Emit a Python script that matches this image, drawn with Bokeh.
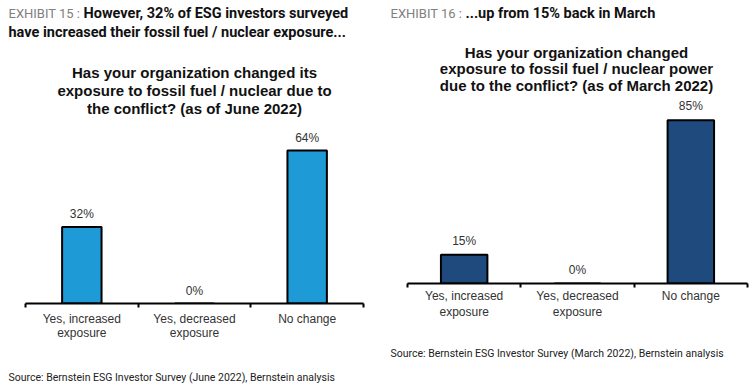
from bokeh.plotting import figure
from bokeh.models import Range1d, FixedTicker, ColumnDataSource
from bokeh.layouts import row, column
from bokeh.embed import file_html
from bokeh.resources import INLINE
from bokeh.core.properties import value

# ---- data ----
categories = ["Yes, increased\nexposure", "Yes, decreased\nexposure", "No change"]
june_values = [32, 0, 64]
march_values = [15, 0, 85]

left_exhibit = "EXHIBIT 15 :"
left_heading = ["However, 32% of ESG investors surveyed",
                "have increased their fossil fuel / nuclear exposure..."]
left_question = ["Has your organization changed its",
                 "exposure to fossil fuel / nuclear due to",
                 "the conflict? (as of June 2022)"]
left_source = "Source: Bernstein ESG Investor Survey (June 2022), Bernstein analysis"

right_exhibit = "EXHIBIT 16 :"
right_heading = ["...up from 15% back in March"]
right_question = ["Has your organization changed",
                  "exposure to fossil fuel / nuclear power",
                  "due to the conflict? (as of March 2022)"]
right_source = "Source: Bernstein ESG Investor Survey (March 2022), Bernstein analysis"

CHART_FONT = "Liberation Sans"
HEAD_FONT = "Roboto"
B = 45          # bottom border (axis area) shared by both panels
PANEL_W = 375
TOTAL_W, TOTAL_H = 750, 386


def make_panel(values, bar_color, bar_width, baseline, axis_px, px_per_pct,
               label_off, standoff, line_h, exhibit, exhibit_xy, heading, heading_xy,
               question, q_cx, q_ys):
    W = PANEL_W
    n = len(categories)
    xs = [i + 0.5 for i in range(n)]
    a0, a1 = axis_px
    sx = (a1 - a0) / n  # pixels per category
    x_range = Range1d(-a0 / sx, n + (W - a1) / sx)
    y_range = Range1d(0, baseline / px_per_pct)

    p = figure(width=W, height=baseline + B, output_backend="svg",
               toolbar_location=None, x_range=x_range, y_range=y_range,
               y_axis_location=None, min_border_left=0, min_border_right=0,
               min_border_top=0, min_border_bottom=B)
    p.outline_line_color = None
    p.grid.visible = False

    src = ColumnDataSource(dict(x=xs, top=values, lab=[f"{v}%" for v in values]))
    p.vbar(x="x", top="top", width=bar_width, source=src,
           fill_color=bar_color, line_color="black", line_width=2)
    p.text(x="x", y="top", text="lab", source=src, text_align="center",
           text_baseline="middle", y_offset=label_off,
           text_font=value(CHART_FONT), text_font_size="12px", text_color="#333333")

    ax = p.xaxis[0]
    ax.bounds = (0, n)
    ax.ticker = FixedTicker(ticks=xs, minor_ticks=list(range(n + 1)))
    ax.major_label_overrides = {x: c for x, c in zip(xs, categories)}
    ax.major_tick_line_color = None
    ax.major_tick_out = 0
    ax.major_tick_in = 0
    ax.minor_tick_line_color = "black"
    ax.minor_tick_line_width = 2
    ax.minor_tick_out = 4
    ax.minor_tick_in = 0
    ax.axis_line_color = "black"
    ax.axis_line_width = 2
    ax.major_label_standoff = standoff
    ax.major_label_text_font = CHART_FONT
    ax.major_label_text_font_size = "12px"
    ax.major_label_text_color = "#333333"
    ax.major_label_text_line_height = line_h

    def txt(text, X, Y, align="left", font=CHART_FONT, size="12px",
            color="#333333", style="normal"):
        p.text(x=[(X - a0) / sx], y=[(baseline - Y) / px_per_pct], text=[text],
               text_align=align, text_baseline="middle",
               text_font=value(font), text_font_size=size, text_color=color,
               text_font_style=style)

    txt(exhibit, exhibit_xy[0], exhibit_xy[1], font=HEAD_FONT, size="13px",
        color="#808080")
    for h, (X, Y) in zip(heading, heading_xy):
        txt(h, X, Y, font=HEAD_FONT, size="14.5px", color="#111111", style="bold")
    for q, Y in zip(question, q_ys):
        txt(q, q_cx, Y, align="center", size="15px", color="#111111", style="bold")
    return p


LEFT_BASE, RIGHT_BASE = 303, 283
p1 = make_panel(june_values, "#1e9ad6", 0.35, LEFT_BASE, (25, 363), 2.39,
                -13, 4, 1.05, left_exhibit, (8, 13), left_heading,
                [(83, 13), (8, 32)], left_question, 194, [72, 90, 108])
p2 = make_panel(march_values, "#1f4a7e", 0.41, RIGHT_BASE, (32, 372), 1.92,
                -14, 1, 1.2, right_exhibit, (15, 13), right_heading,
                [(90, 13)], right_question, 201, [52, 68, 85])

# footer strip with the two source notes (pixel coordinates, y downward)
top_h = LEFT_BASE + B
foot_h = TOTAL_H - top_h
foot = figure(width=TOTAL_W, height=foot_h, output_backend="svg",
              toolbar_location=None, x_range=Range1d(0, TOTAL_W),
              y_range=Range1d(foot_h, 0), x_axis_location=None,
              y_axis_location=None, min_border=0)
foot.outline_line_color = None
foot.grid.visible = False
foot.text(x=[8, PANEL_W + 15], y=[377 - top_h, 353 - top_h],
          text=[left_source, right_source], text_baseline="middle",
          text_font=value(HEAD_FONT), text_font_size="10.5px", text_color="#222222")

layout = column(row(p1, p2), foot)
open("out.html", "w").write(file_html(layout, INLINE))
